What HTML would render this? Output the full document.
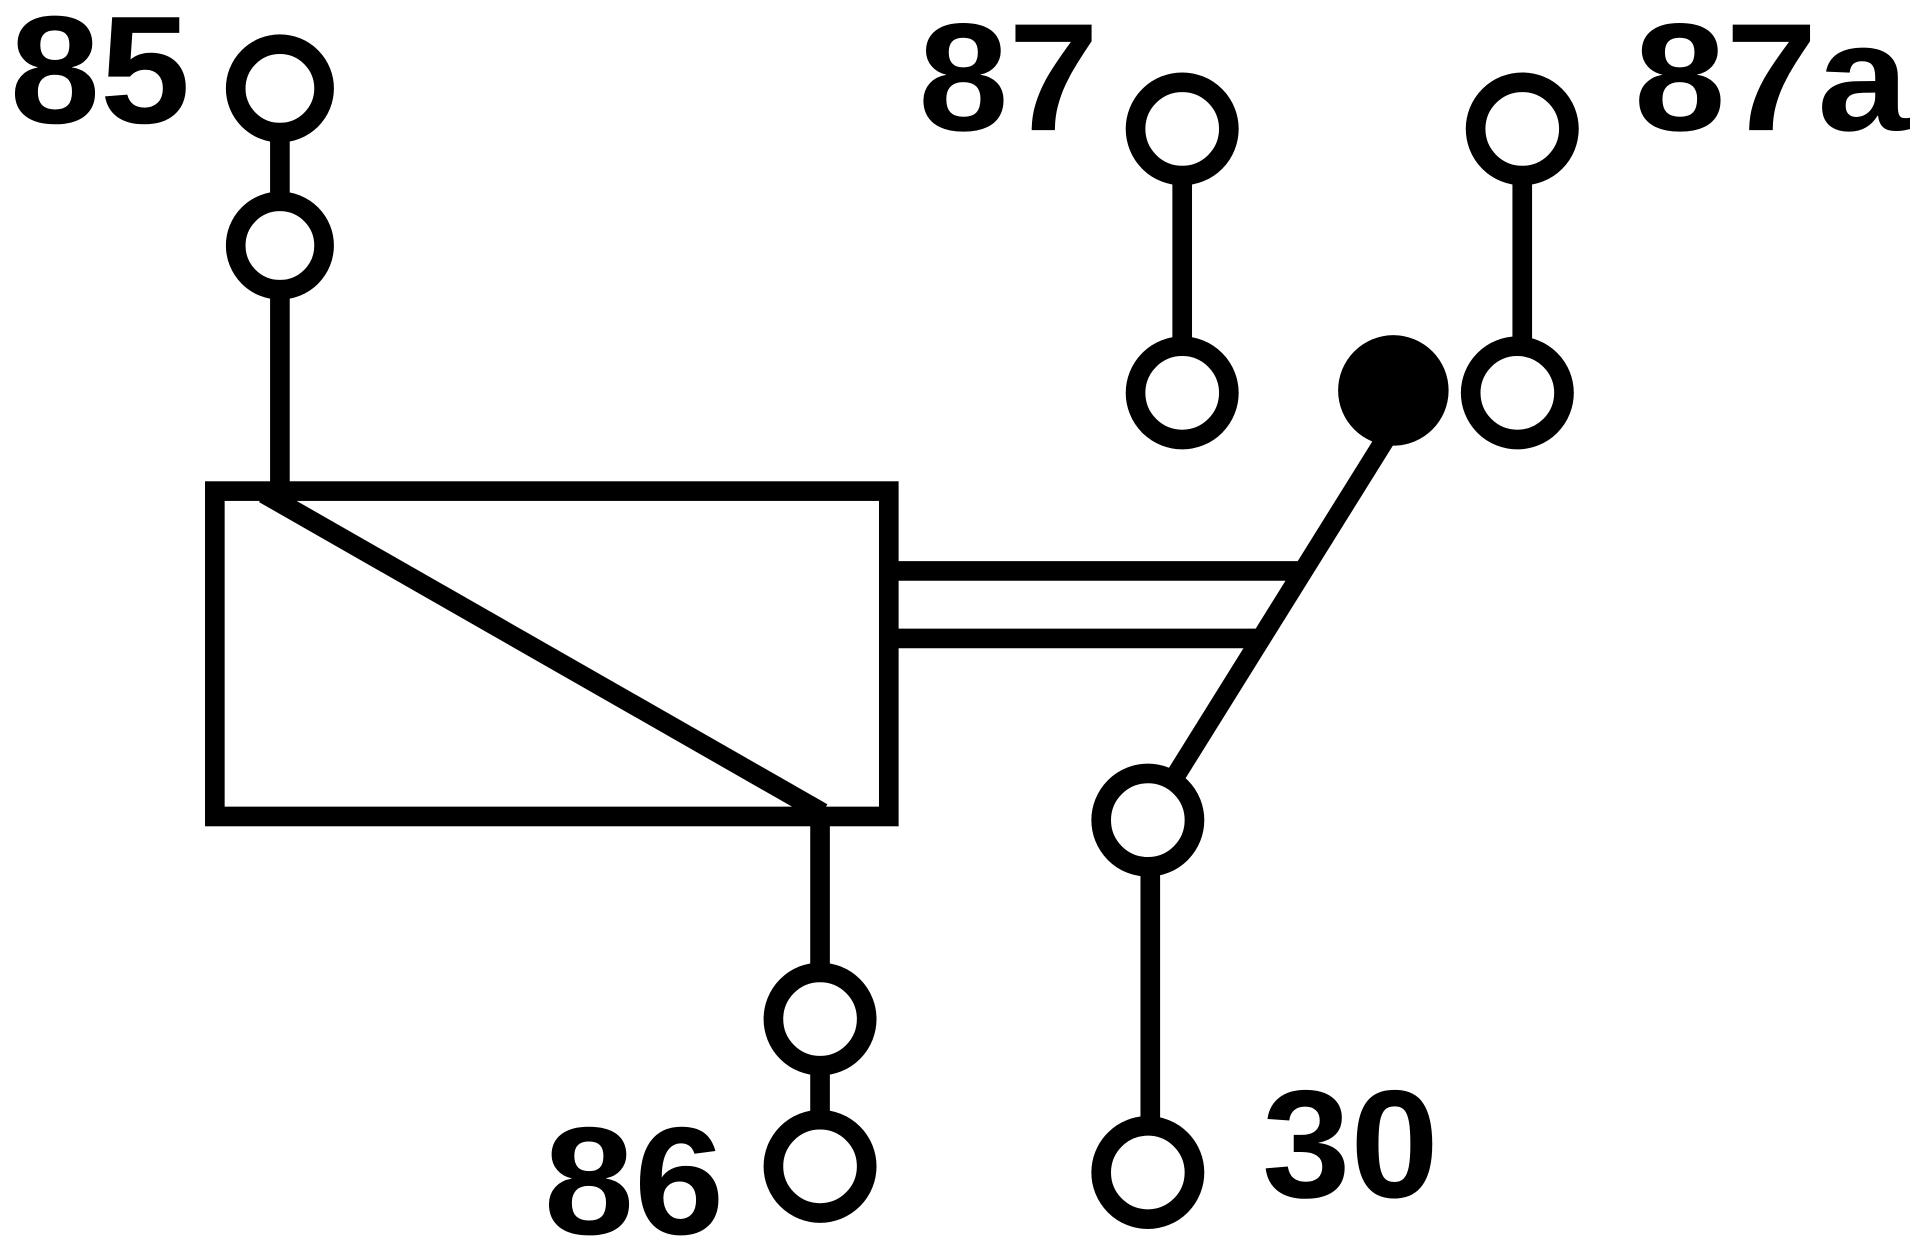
<!DOCTYPE html>
<html><head><meta charset="utf-8"><style>
html,body{margin:0;padding:0;background:#fff;}
svg{display:block;}
.t{font-family:'Liberation Sans',Arial,Helvetica,sans-serif;font-weight:bold;font-size:125px;fill:#000;}
</style></head><body>
<svg width="1920" height="1256" viewBox="0 0 1564 1023" preserveAspectRatio="none" xmlns="http://www.w3.org/2000/svg">
<g stroke="#000" stroke-width="16" fill="none">
<circle cx="228" cy="72" r="36"/>
<circle cx="228" cy="200" r="36"/>
<line x1="228" y1="108" x2="228" y2="164"/>
<line x1="228" y1="236" x2="228" y2="400"/>
<circle cx="963" cy="105" r="38"/>
<circle cx="963" cy="320" r="38"/>
<line x1="963" y1="143" x2="963" y2="282"/>
<circle cx="1240" cy="105" r="38"/>
<circle cx="1236" cy="320" r="38"/>
<line x1="1240" y1="143" x2="1240" y2="282"/>
<rect x="175" y="400" width="549" height="265"/>
<line x1="215" y1="402" x2="670" y2="662"/>
<line x1="668" y1="672" x2="668" y2="792"/>
<circle cx="668" cy="830" r="38"/>
<line x1="668" y1="868" x2="668" y2="912"/>
<circle cx="668" cy="950" r="38"/>
<circle cx="935" cy="668" r="38"/>
<line x1="937" y1="706" x2="937" y2="917"/>
<circle cx="935" cy="955" r="38"/>
<line x1="1132" y1="352" x2="955" y2="636"/>
<line x1="724" y1="465" x2="1058" y2="465"/>
<line x1="724" y1="520" x2="1024" y2="520"/>
</g>
<circle cx="1135" cy="318" r="45" fill="#000"/>
<text class="t" x="8" y="100" textLength="147" lengthAdjust="spacingAndGlyphs">85</text>
<text class="t" x="748" y="106" textLength="147" lengthAdjust="spacingAndGlyphs">87</text>
<text class="t" x="1331" y="106" textLength="224" lengthAdjust="spacingAndGlyphs">87a</text>
<text class="t" x="443" y="1005" textLength="147" lengthAdjust="spacingAndGlyphs">86</text>
<text class="t" x="1028" y="975" textLength="144" lengthAdjust="spacingAndGlyphs">30</text>
</svg>
</body></html>
